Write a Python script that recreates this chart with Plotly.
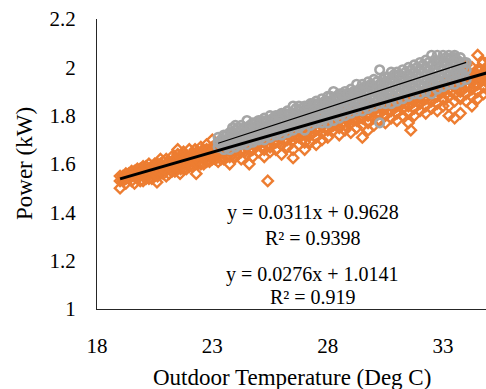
import plotly.graph_objects as go

# Outdoor temperature (deg C) vs. power draw (kW), two measurement sets
orange_temp = [
    19.0, 19.0, 19.0, 19.25, 19.25, 19.25, 19.5, 19.5, 19.5, 19.75, 19.75, 19.75,
    20.0, 20.0, 20.0, 20.0, 20.25, 20.25, 20.25, 20.25, 20.5, 20.5, 20.5, 20.5, 20.6,
    20.75, 20.75, 20.75, 20.75, 21.0, 21.0, 21.0, 21.0, 21.25, 21.25, 21.25, 21.25,
    21.5, 21.5, 21.5, 21.5, 21.5, 21.6, 21.75, 21.75, 21.75, 21.75, 22.0, 22.0, 22.0, 22.0,
    22.25, 22.25, 22.25, 22.25, 22.3, 22.5, 22.5, 22.5, 22.5, 22.75, 22.75, 22.75, 22.75,
    23.0, 23.0, 23.0, 23.0, 23.25, 23.25, 23.25, 23.25, 23.5, 23.5, 23.5,
    23.75, 23.75, 23.75, 23.75, 24.0, 24.0, 24.0, 24.25, 24.25, 24.25, 24.25,
    24.5, 24.5, 24.5, 24.6, 24.75, 24.75, 24.75, 24.75, 25.0, 25.0, 25.0,
    25.25, 25.25, 25.25, 25.25, 25.4, 25.5, 25.5, 25.5, 25.5, 25.75, 25.75, 25.75,
    26.0, 26.0, 26.0, 26.0, 26.25, 26.25, 26.25, 26.5, 26.5, 26.5, 26.5, 26.5,
    26.75, 26.75, 26.75, 27.0, 27.0, 27.0, 27.0, 27.25, 27.25, 27.25,
    27.5, 27.5, 27.5, 27.5, 27.75, 27.75, 27.75, 28.0, 28.0, 28.0, 28.0,
    28.25, 28.25, 28.25, 28.5, 28.5, 28.5, 28.5, 28.75, 28.75, 28.75,
    29.0, 29.0, 29.0, 29.0, 29.25, 29.25, 29.25, 29.5, 29.5, 29.5, 29.5,
    29.75, 29.75, 29.75, 29.75, 30.0, 30.0, 30.0, 30.0, 30.25, 30.25, 30.25,
    30.5, 30.5, 30.5, 30.5, 30.75, 30.75, 30.75, 30.75, 31.0, 31.0, 31.0, 31.0,
    31.25, 31.25, 31.25, 31.5, 31.5, 31.5, 31.5, 31.6, 31.75, 31.75, 31.75, 31.75,
    32.0, 32.0, 32.0, 32.25, 32.25, 32.25, 32.25, 32.5, 32.5, 32.5, 32.5,
    32.75, 32.75, 32.75, 32.75, 33.0, 33.0, 33.0, 33.0,
    33.25, 33.25, 33.25, 33.25, 33.25, 33.5, 33.5, 33.5, 33.5, 33.5,
    33.75, 33.75, 33.75, 33.75, 33.75, 33.75, 34.0, 34.0, 34.0, 34.0, 34.0, 34.0,
    34.25, 34.25, 34.25, 34.25, 34.25, 34.25, 34.5, 34.5, 34.5, 34.5, 34.5, 34.5,
    34.75, 34.75, 34.75, 34.75, 34.75, 35.0, 35.0, 35.0, 35.0, 35.0,
    35.25, 35.25, 35.25, 35.25, 35.5, 35.5, 35.5,
    19.125, 19.125, 19.375, 19.375, 19.625, 19.625, 19.625, 19.875, 19.875, 19.875,
    20.125, 20.125, 20.125, 20.375, 20.375, 20.375, 20.625, 20.625, 20.625,
    20.875, 20.875, 20.875, 21.125, 21.125, 21.125, 21.375, 21.375, 21.375,
    21.625, 21.625, 21.625, 21.875, 21.875, 21.875, 22.125, 22.125, 22.125,
    22.375, 22.375, 22.375, 22.625, 22.625, 22.625, 22.875, 22.875, 22.875,
    23.125, 23.125, 23.125, 23.375, 23.375, 23.375, 23.625, 23.625, 23.625,
    23.875, 23.875, 23.875, 24.125, 24.125, 24.125, 24.375, 24.375, 24.375,
    24.625, 24.625, 24.625, 24.875, 24.875, 24.875, 25.125, 25.125, 25.125,
    25.375, 25.375, 25.375, 25.625, 25.625, 25.625, 25.875, 25.875, 25.875,
    26.125, 26.125, 26.125, 26.375, 26.375, 26.375, 26.625, 26.625, 26.625,
    26.875, 26.875, 26.875, 27.125, 27.125, 27.125, 27.375, 27.375, 27.375,
    27.625, 27.625, 27.625, 27.875, 27.875, 27.875, 28.125, 28.125, 28.125,
    28.375, 28.375, 28.375, 28.625, 28.625, 28.625, 28.875, 28.875, 28.875,
    29.125, 29.125, 29.125, 29.375, 29.375, 29.375, 29.625, 29.625, 29.625,
    29.875, 29.875, 29.875, 30.125, 30.125, 30.125, 30.375, 30.375, 30.375,
    30.625, 30.625, 30.625, 30.875, 30.875, 30.875, 31.125, 31.125, 31.125,
    31.375, 31.375, 31.375, 31.625, 31.625, 31.625, 31.875, 31.875, 31.875,
    32.125, 32.125, 32.125, 32.375, 32.375, 32.375, 32.625, 32.625, 32.625,
    32.875, 32.875, 32.875, 33.125, 33.125, 33.125, 33.375, 33.375, 33.375,
    33.625, 33.625, 33.625, 33.875, 33.875, 33.875, 34.125, 34.125, 34.125,
    34.375, 34.375, 34.375, 34.625, 34.625, 34.625, 34.875, 34.875, 34.875,
    35.125, 35.125, 35.125, 35.375, 35.375, 35.375,
]
orange_power = [
    1.50, 1.53, 1.55, 1.52, 1.54, 1.56, 1.53, 1.55, 1.57, 1.54, 1.56, 1.58,
    1.53, 1.55, 1.57, 1.59, 1.54, 1.56, 1.58, 1.60, 1.55, 1.57, 1.59, 1.60, 1.525,
    1.56, 1.58, 1.60, 1.62, 1.55, 1.58, 1.60, 1.62, 1.57, 1.59, 1.61, 1.63,
    1.58, 1.60, 1.62, 1.64, 1.66, 1.56, 1.58, 1.61, 1.63, 1.65, 1.59, 1.61, 1.63, 1.66,
    1.60, 1.62, 1.64, 1.66, 1.56, 1.60, 1.63, 1.65, 1.67, 1.61, 1.63, 1.66, 1.68,
    1.62, 1.64, 1.67, 1.70, 1.61, 1.64, 1.66, 1.69, 1.62, 1.65, 1.67,
    1.60, 1.63, 1.66, 1.68, 1.63, 1.66, 1.68, 1.62, 1.65, 1.68, 1.70,
    1.64, 1.67, 1.69, 1.60, 1.63, 1.66, 1.69, 1.71, 1.65, 1.68, 1.70,
    1.63, 1.66, 1.69, 1.72, 1.53, 1.65, 1.67, 1.70, 1.73, 1.66, 1.69, 1.72,
    1.64, 1.68, 1.71, 1.74, 1.67, 1.70, 1.73, 1.625, 1.66, 1.70, 1.72, 1.75,
    1.68, 1.71, 1.74, 1.66, 1.69, 1.72, 1.75, 1.69, 1.72, 1.75,
    1.68, 1.71, 1.74, 1.77, 1.70, 1.73, 1.76, 1.71, 1.74, 1.77, 1.79,
    1.74, 1.76, 1.78, 1.72, 1.75, 1.78, 1.80, 1.74, 1.76, 1.79,
    1.73, 1.77, 1.80, 1.82, 1.75, 1.78, 1.81, 1.71, 1.76, 1.79, 1.82,
    1.74, 1.77, 1.80, 1.83, 1.76, 1.79, 1.82, 1.84, 1.78, 1.81, 1.84,
    1.77, 1.80, 1.83, 1.85, 1.79, 1.82, 1.84, 1.86, 1.78, 1.81, 1.84, 1.87,
    1.80, 1.83, 1.86, 1.77, 1.81, 1.84, 1.87, 1.74, 1.80, 1.83, 1.86, 1.89,
    1.82, 1.85, 1.88, 1.81, 1.84, 1.87, 1.90, 1.83, 1.86, 1.89, 1.91,
    1.82, 1.85, 1.88, 1.92, 1.84, 1.87, 1.90, 1.93,
    1.80, 1.84, 1.88, 1.91, 1.94, 1.79, 1.86, 1.89, 1.92, 1.95,
    1.81, 1.87, 1.90, 1.93, 1.96, 1.99, 1.86, 1.89, 1.92, 1.95, 1.98, 2.01,
    1.84, 1.88, 1.91, 1.94, 1.97, 2.00, 1.87, 1.90, 1.93, 1.96, 1.99, 2.05,
    1.89, 1.92, 1.95, 1.98, 2.02, 1.90, 1.94, 1.97, 2.00, 2.03,
    1.92, 1.96, 1.99, 2.02, 1.94, 1.98, 2.01,
    1.53, 1.55, 1.54, 1.56, 1.52, 1.55, 1.57, 1.53, 1.56, 1.58,
    1.54, 1.56, 1.59, 1.54, 1.57, 1.59, 1.55, 1.57, 1.60,
    1.56, 1.58, 1.61, 1.56, 1.59, 1.61, 1.57, 1.59, 1.62,
    1.58, 1.60, 1.63, 1.58, 1.61, 1.63, 1.59, 1.62, 1.64,
    1.60, 1.62, 1.65, 1.60, 1.63, 1.65, 1.61, 1.64, 1.66,
    1.62, 1.64, 1.67, 1.62, 1.65, 1.67, 1.63, 1.66, 1.68,
    1.64, 1.66, 1.69, 1.64, 1.67, 1.69, 1.65, 1.68, 1.70,
    1.66, 1.68, 1.71, 1.67, 1.69, 1.72, 1.67, 1.70, 1.72,
    1.68, 1.70, 1.73, 1.69, 1.71, 1.74, 1.69, 1.72, 1.74,
    1.70, 1.73, 1.75, 1.71, 1.73, 1.76, 1.71, 1.74, 1.76,
    1.72, 1.75, 1.77, 1.73, 1.75, 1.78, 1.73, 1.76, 1.79,
    1.74, 1.77, 1.79, 1.75, 1.77, 1.80, 1.76, 1.78, 1.81,
    1.76, 1.79, 1.81, 1.77, 1.79, 1.82, 1.78, 1.80, 1.83,
    1.78, 1.81, 1.83, 1.79, 1.82, 1.84, 1.80, 1.82, 1.85,
    1.80, 1.83, 1.85, 1.81, 1.84, 1.86, 1.82, 1.84, 1.87,
    1.82, 1.85, 1.87, 1.83, 1.86, 1.88, 1.84, 1.86, 1.89,
    1.85, 1.87, 1.90, 1.85, 1.88, 1.90, 1.86, 1.88, 1.91,
    1.87, 1.89, 1.92, 1.87, 1.90, 1.92, 1.88, 1.91, 1.93,
    1.89, 1.91, 1.94, 1.89, 1.92, 1.94, 1.90, 1.93, 1.95,
    1.91, 1.93, 1.96, 1.91, 1.94, 1.96, 1.92, 1.95, 1.97,
    1.93, 1.95, 1.98, 1.94, 1.96, 1.99, 1.94, 1.97, 2.00,
    1.95, 1.98, 2.00, 1.96, 1.99, 2.01,
]

gray_temp = [
    23.25, 23.25, 23.25, 23.5, 23.5, 23.5, 23.5, 23.75, 23.75, 23.75, 23.75,
    24.0, 24.0, 24.0, 24.0, 24.0, 24.25, 24.25, 24.25, 24.25, 24.25,
    24.5, 24.5, 24.5, 24.5, 24.5, 24.75, 24.75, 24.75, 24.75, 24.75,
    25.0, 25.0, 25.0, 25.0, 25.0, 25.25, 25.25, 25.25, 25.25, 25.25,
    25.5, 25.5, 25.5, 25.5, 25.5, 25.75, 25.75, 25.75, 25.75, 25.75,
    26.0, 26.0, 26.0, 26.0, 26.0, 26.25, 26.25, 26.25, 26.25, 26.25,
    26.5, 26.5, 26.5, 26.5, 26.5, 26.75, 26.75, 26.75, 26.75, 26.75,
    27.0, 27.0, 27.0, 27.0, 27.0, 27.25, 27.25, 27.25, 27.25, 27.25,
    27.5, 27.5, 27.5, 27.5, 27.5, 27.75, 27.75, 27.75, 27.75, 27.75,
    28.0, 28.0, 28.0, 28.0, 28.0, 28.25, 28.25, 28.25, 28.25, 28.25,
    28.5, 28.5, 28.5, 28.5, 28.5, 28.75, 28.75, 28.75, 28.75, 28.75,
    29.0, 29.0, 29.0, 29.0, 29.0, 29.25, 29.25, 29.25, 29.25, 29.25,
    29.5, 29.5, 29.5, 29.5, 29.5, 29.75, 29.75, 29.75, 29.75, 29.75,
    30.0, 30.0, 30.0, 30.0, 30.0, 30.25, 30.25, 30.25, 30.25, 30.25, 30.25,
    30.5, 30.5, 30.5, 30.5, 30.5, 30.75, 30.75, 30.75, 30.75, 30.75,
    31.0, 31.0, 31.0, 31.0, 31.0, 31.25, 31.25, 31.25, 31.25, 31.25,
    31.5, 31.5, 31.5, 31.5, 31.5, 31.75, 31.75, 31.75, 31.75, 31.75,
    32.0, 32.0, 32.0, 32.0, 32.0, 32.25, 32.25, 32.25, 32.25, 32.25,
    32.5, 32.5, 32.5, 32.5, 32.5, 32.75, 32.75, 32.75, 32.75, 32.75,
    33.0, 33.0, 33.0, 33.0, 33.0, 33.25, 33.25, 33.25, 33.25, 33.25,
    33.5, 33.5, 33.5, 33.5, 33.5, 33.75, 33.75, 33.75, 33.75, 34.0, 34.0, 34.0,
    23.375, 23.375, 23.625, 23.625, 23.625, 23.875, 23.875, 23.875, 23.875,
    24.125, 24.125, 24.125, 24.125, 24.375, 24.375, 24.375, 24.375,
    24.625, 24.625, 24.625, 24.625, 24.875, 24.875, 24.875, 24.875,
    25.125, 25.125, 25.125, 25.125, 25.375, 25.375, 25.375, 25.375,
    25.625, 25.625, 25.625, 25.625, 25.875, 25.875, 25.875, 25.875,
    26.125, 26.125, 26.125, 26.125, 26.375, 26.375, 26.375, 26.375,
    26.625, 26.625, 26.625, 26.625, 26.875, 26.875, 26.875, 26.875,
    27.125, 27.125, 27.125, 27.125, 27.375, 27.375, 27.375, 27.375,
    27.625, 27.625, 27.625, 27.625, 27.875, 27.875, 27.875, 27.875,
    28.125, 28.125, 28.125, 28.125, 28.375, 28.375, 28.375, 28.375,
    28.625, 28.625, 28.625, 28.625, 28.875, 28.875, 28.875, 28.875,
    29.125, 29.125, 29.125, 29.125, 29.375, 29.375, 29.375, 29.375,
    29.625, 29.625, 29.625, 29.625, 29.875, 29.875, 29.875, 29.875,
    30.125, 30.125, 30.125, 30.125, 30.375, 30.375, 30.375, 30.375,
    30.625, 30.625, 30.625, 30.625, 30.875, 30.875, 30.875, 30.875,
    31.125, 31.125, 31.125, 31.125, 31.375, 31.375, 31.375, 31.375,
    31.625, 31.625, 31.625, 31.625, 31.875, 31.875, 31.875, 31.875,
    32.125, 32.125, 32.125, 32.125, 32.375, 32.375, 32.375, 32.375,
    32.625, 32.625, 32.625, 32.625, 32.875, 32.875, 32.875, 32.875,
    33.125, 33.125, 33.125, 33.125, 33.375, 33.375, 33.375, 33.375,
    33.625, 33.625, 33.625, 33.875, 33.875, 33.875,
]
gray_power = [
    1.67, 1.69, 1.71, 1.66, 1.68, 1.70, 1.72, 1.66, 1.69, 1.71, 1.73,
    1.67, 1.69, 1.71, 1.74, 1.76, 1.68, 1.70, 1.72, 1.74, 1.76,
    1.68, 1.71, 1.73, 1.75, 1.78, 1.69, 1.71, 1.73, 1.75, 1.77,
    1.70, 1.72, 1.74, 1.76, 1.78, 1.70, 1.73, 1.75, 1.77, 1.79,
    1.71, 1.74, 1.76, 1.78, 1.80, 1.72, 1.74, 1.76, 1.79, 1.80,
    1.72, 1.75, 1.77, 1.79, 1.81, 1.73, 1.76, 1.78, 1.80, 1.82,
    1.74, 1.77, 1.79, 1.81, 1.84, 1.75, 1.77, 1.80, 1.82, 1.84,
    1.74, 1.77, 1.80, 1.82, 1.84, 1.76, 1.78, 1.81, 1.83, 1.85,
    1.77, 1.79, 1.82, 1.84, 1.86, 1.77, 1.80, 1.83, 1.85, 1.87,
    1.77, 1.80, 1.83, 1.86, 1.88, 1.78, 1.81, 1.84, 1.87, 1.90,
    1.79, 1.82, 1.85, 1.87, 1.89, 1.80, 1.83, 1.86, 1.88, 1.90,
    1.81, 1.84, 1.87, 1.89, 1.91, 1.82, 1.85, 1.87, 1.90, 1.93,
    1.82, 1.85, 1.88, 1.91, 1.93, 1.83, 1.86, 1.89, 1.92, 1.94,
    1.84, 1.87, 1.90, 1.92, 1.95, 1.77, 1.85, 1.88, 1.91, 1.93, 1.99,
    1.85, 1.88, 1.91, 1.94, 1.96, 1.85, 1.89, 1.92, 1.95, 1.98,
    1.86, 1.90, 1.93, 1.96, 1.98, 1.87, 1.91, 1.94, 1.96, 1.99,
    1.88, 1.91, 1.94, 1.97, 2.00, 1.89, 1.92, 1.95, 1.98, 2.01,
    1.89, 1.93, 1.96, 1.99, 2.02, 1.90, 1.94, 1.97, 2.00, 2.03,
    1.89, 1.94, 1.97, 2.01, 2.05, 1.91, 1.95, 1.98, 2.02, 2.05,
    1.92, 1.96, 1.99, 2.02, 2.05, 1.93, 1.97, 2.00, 2.03, 2.05,
    1.93, 1.97, 2.01, 2.04, 2.05, 1.94, 1.98, 2.01, 2.04, 1.95, 1.99, 2.02,
    1.68, 1.70, 1.67, 1.70, 1.72, 1.68, 1.70, 1.73, 1.75,
    1.68, 1.71, 1.73, 1.75, 1.69, 1.71, 1.73, 1.75,
    1.70, 1.72, 1.74, 1.76, 1.70, 1.72, 1.74, 1.77,
    1.71, 1.73, 1.75, 1.78, 1.72, 1.74, 1.76, 1.78,
    1.73, 1.75, 1.77, 1.79, 1.73, 1.75, 1.78, 1.80,
    1.74, 1.76, 1.78, 1.81, 1.75, 1.77, 1.79, 1.81,
    1.76, 1.78, 1.80, 1.83, 1.76, 1.79, 1.81, 1.83,
    1.77, 1.79, 1.82, 1.84, 1.78, 1.80, 1.82, 1.85,
    1.78, 1.81, 1.83, 1.85, 1.79, 1.82, 1.84, 1.86,
    1.80, 1.82, 1.85, 1.88, 1.80, 1.83, 1.86, 1.88,
    1.81, 1.84, 1.86, 1.89, 1.82, 1.85, 1.87, 1.89,
    1.83, 1.86, 1.88, 1.90, 1.84, 1.86, 1.89, 1.91,
    1.84, 1.87, 1.90, 1.92, 1.85, 1.88, 1.91, 1.93,
    1.86, 1.89, 1.91, 1.94, 1.87, 1.90, 1.92, 1.95,
    1.87, 1.90, 1.93, 1.96, 1.88, 1.91, 1.94, 1.97,
    1.89, 1.92, 1.95, 1.97, 1.90, 1.93, 1.95, 1.98,
    1.90, 1.93, 1.96, 1.99, 1.91, 1.94, 1.97, 2.00,
    1.92, 1.95, 1.98, 2.01, 1.93, 1.96, 1.99, 2.02,
    1.93, 1.96, 1.99, 2.03, 1.94, 1.97, 2.00, 2.03,
    1.95, 1.98, 2.01, 2.04, 1.96, 1.99, 2.02, 2.04,
    1.97, 2.00, 2.03, 1.97, 2.00, 2.02,
]

# Linear trendlines (slope, intercept, R squared)
gray_fit = (0.0311, 0.9628, 0.9398)
orange_fit = (0.0276, 1.0141, 0.919)

x_tick_vals = [18, 23, 28, 33]
y_tick_vals = [1, 1.2, 1.4, 1.6, 1.8, 2, 2.2]
y_tick_text = ["1", "1.2", "1.4", "1.6", "1.8", "2", "2.2"]

ORANGE = "#ED7D31"
GRAY = "#A5A5A5"
FONT = "Liberation Serif"


def fit_line(xs, fit):
    lo, hi = min(xs), max(xs)
    return [lo, hi], [fit[0] * lo + fit[1], fit[0] * hi + fit[1]]


fig = go.Figure()
fig.add_trace(go.Scatter(
    x=orange_temp, y=orange_power, mode="markers",
    marker=dict(symbol="diamond-open", size=8, color=ORANGE, line=dict(width=2.4, color=ORANGE)),
    showlegend=False,
))
fig.add_trace(go.Scatter(
    x=gray_temp, y=gray_power, mode="markers",
    marker=dict(symbol="circle-open", size=8.5, color=GRAY, line=dict(width=2.6, color=GRAY)),
    showlegend=False,
))
ox, oy = fit_line(orange_temp, orange_fit)
fig.add_trace(go.Scatter(x=ox, y=oy, mode="lines", line=dict(color="black", width=3), showlegend=False))
gx, gy = fit_line(gray_temp, gray_fit)
fig.add_trace(go.Scatter(x=gx, y=gy, mode="lines", line=dict(color="black", width=1.3), showlegend=False))


def eq_text(fit):
    return f"y = {fit[0]}x + {fit[1]}"


annos = [
    (eq_text(gray_fit), 1.401),
    (f"R² = {gray_fit[2]}", 1.294),
    (eq_text(orange_fit), 1.141),
    (f"R² = {orange_fit[2]}", 1.050),
]
for text, yv in annos:
    fig.add_annotation(x=27.36, y=yv, xref="x", yref="y", text=text, showarrow=False,
                       xanchor="center", yanchor="middle",
                       font=dict(family=FONT, size=20, color="black"))

fig.add_annotation(xref="paper", yref="paper", x=0.5, y=0, yshift=-68, xanchor="center",
                   yanchor="middle", text="Outdoor Temperature (Deg C)", showarrow=False,
                   font=dict(family=FONT, size=23, color="black"))
fig.add_annotation(xref="paper", yref="paper", x=0, y=0.5, xshift=-73, xanchor="center",
                   yanchor="middle", text="Power (kW)", textangle=-90, showarrow=False,
                   font=dict(family=FONT, size=23, color="black"))

fig.update_layout(
    width=486, height=389,
    margin=dict(l=97, r=0, t=19, b=80),
    paper_bgcolor="white", plot_bgcolor="white",
    font=dict(family=FONT, color="black"),
    xaxis=dict(range=[18, 34.86], tickvals=x_tick_vals, showgrid=False, zeroline=False,
               showline=True, linecolor="#262626", linewidth=1, ticks="",
               ticklabelstandoff=18, tickfont=dict(family=FONT, size=21, color="black")),
    yaxis=dict(range=[1, 2.2], tickvals=y_tick_vals, ticktext=y_tick_text, showgrid=False,
               zeroline=False, showline=True, linecolor="#262626", linewidth=1, ticks="",
               ticklabelstandoff=16, tickfont=dict(family=FONT, size=21, color="black")),
)

fig.write_html("out.html")
